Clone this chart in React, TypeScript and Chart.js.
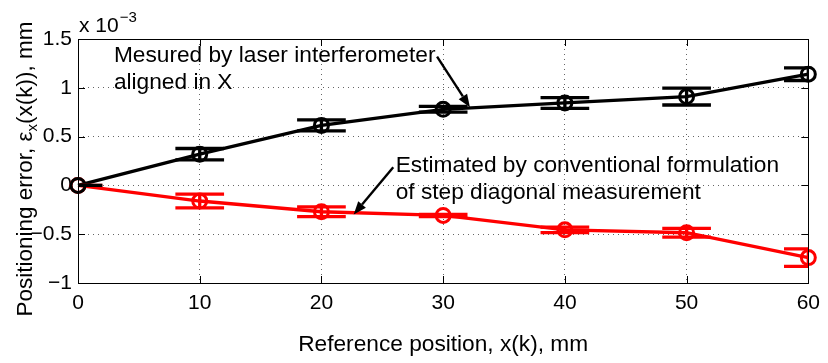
import React, { useEffect, useRef } from 'react';
import { Chart, registerables } from 'chart.js';

Chart.register(...registerables);

// ---- data ----
const positions = [0, 10, 20, 30, 40, 50, 60];
const measured = [0, 0.32, 0.615, 0.78, 0.845, 0.91, 1.14];
const measuredErr = [0, 0.058, 0.056, 0.03, 0.055, 0.086, 0.065];
const estimated = [0, -0.16, -0.27, -0.308, -0.455, -0.485, -0.74];
const estimatedErr = [0, 0.07, 0.05, 0.012, 0.028, 0.045, 0.09];
const xTicks = [0, 10, 20, 30, 40, 50, 60];
const yTicks = [-1, -0.5, 0, 0.5, 1, 1.5];

const xTitle = 'Reference position, x(k), mm';
const yTitleMain = 'Positioning error, ε';
const yTitleSub = 'x';
const yTitleTail = '(x(k)), mm';
const multiplierBase = 'x 10';
const multiplierExp = '−3';

const textNotes = [
  { lines: ['Mesured by laser interferometer', 'aligned in X'], x: 2.95, y: 1.26 },
  { lines: ['Estimated by conventional formulation', 'of step diagonal measurement'], x: 26.1, y: 0.137 },
];
const arrowNotes = [
  { fromX: 29.5, fromY: 1.32, toX: 32.2, toY: 0.8 },
  { fromX: 25.9, fromY: 0.185, toX: 22.65, toY: -0.298 },
];

const FONT = '"Liberation Sans", Arial, Helvetica, sans-serif';
const CAP_HALF = 2; // x units

function fmt(v: number): string {
  if (v < 0) return '\u2212' + String(Math.abs(v));
  return String(v);
}

export default function App() {
  const ref = useRef<HTMLCanvasElement>(null);

  useEffect(() => {
    const canvas = ref.current!;
    const overlay = {
      id: 'overlay',
      afterDatasetsDraw(chart: any) {
        const ctx = chart.ctx as CanvasRenderingContext2D;
        const xs = chart.scales.x;
        const ys = chart.scales.y;
        const a = chart.chartArea;
        ctx.save();
        ctx.beginPath();
        ctx.rect(a.left, a.top - 2, a.right - a.left, a.bottom - a.top + 4);
        ctx.clip();
        const series = [
          { vals: estimated, errs: estimatedErr, color: '#ff0000' },
          { vals: measured, errs: measuredErr, color: '#000000' },
        ];
        for (const s of series) {
          ctx.strokeStyle = s.color;
          ctx.lineWidth = 3.3;
          ctx.lineCap = 'butt';
          positions.forEach((p, i) => {
            const px = xs.getPixelForValue(p);
            const yt = ys.getPixelForValue(s.vals[i] + s.errs[i]);
            const yb = ys.getPixelForValue(s.vals[i] - s.errs[i]);
            const xl = xs.getPixelForValue(p - CAP_HALF);
            const xr = xs.getPixelForValue(p + CAP_HALF);
            ctx.beginPath();
            ctx.moveTo(px, yt);
            ctx.lineTo(px, yb);
            ctx.moveTo(xl, yt);
            ctx.lineTo(xr, yt);
            ctx.moveTo(xl, yb);
            ctx.lineTo(xr, yb);
            ctx.stroke();
          });
        }
        ctx.restore();
      },
      afterDraw(chart: any) {
        const ctx = chart.ctx as CanvasRenderingContext2D;
        const xs = chart.scales.x;
        const ys = chart.scales.y;
        const a = chart.chartArea;
        ctx.save();
        // box
        ctx.strokeStyle = '#000';
        ctx.lineWidth = 1;
        ctx.strokeRect(Math.round(a.left) + 0.5, Math.round(a.top) + 0.5, Math.round(a.right - a.left), Math.round(a.bottom - a.top));
        // inward ticks
        const tl = 7;
        ctx.beginPath();
        for (const v of xTicks) {
          const px = Math.round(xs.getPixelForValue(v)) + 0.5;
          ctx.moveTo(px, a.bottom);
          ctx.lineTo(px, a.bottom - tl);
          ctx.moveTo(px, a.top);
          ctx.lineTo(px, a.top + tl);
        }
        for (const v of yTicks) {
          const py = Math.round(ys.getPixelForValue(v)) + 0.5;
          ctx.moveTo(a.left, py);
          ctx.lineTo(a.left + tl, py);
          ctx.moveTo(a.right, py);
          ctx.lineTo(a.right - tl, py);
        }
        ctx.stroke();

        // text notes
        ctx.fillStyle = '#000';
        ctx.font = `22.7px ${FONT}`;
        ctx.textAlign = 'left';
        ctx.textBaseline = 'alphabetic';
        for (const n of textNotes) {
          const px = xs.getPixelForValue(n.x);
          const py = ys.getPixelForValue(n.y);
          n.lines.forEach((l, i) => ctx.fillText(l, px, py + i * 27));
        }
        // arrows
        for (const ar of arrowNotes) {
          const x1 = xs.getPixelForValue(ar.fromX);
          const y1 = ys.getPixelForValue(ar.fromY);
          const x2 = xs.getPixelForValue(ar.toX);
          const y2 = ys.getPixelForValue(ar.toY);
          const ang = Math.atan2(y2 - y1, x2 - x1);
          const hl = 13;
          const hw = 5;
          const bx = x2 - hl * Math.cos(ang);
          const by = y2 - hl * Math.sin(ang);
          ctx.strokeStyle = '#000';
          ctx.lineWidth = 2.4;
          ctx.beginPath();
          ctx.moveTo(x1, y1);
          ctx.lineTo(bx, by);
          ctx.stroke();
          ctx.beginPath();
          ctx.moveTo(x2, y2);
          ctx.lineTo(bx + hw * Math.sin(ang), by - hw * Math.cos(ang));
          ctx.lineTo(bx - hw * Math.sin(ang), by + hw * Math.cos(ang));
          ctx.closePath();
          ctx.fill();
        }

        // multiplier
        ctx.font = `21px ${FONT}`;
        ctx.fillText(multiplierBase, a.left + 1, a.top - 7);
        const mw = ctx.measureText(multiplierBase).width;
        ctx.font = `15px ${FONT}`;
        ctx.fillText(multiplierExp, a.left + 1 + mw + 1, a.top - 17);

        // x title
        ctx.font = `22.7px ${FONT}`;
        ctx.textAlign = 'center';
        ctx.fillText(xTitle, (a.left + a.right) / 2, 351);

        // y title (rotated, with subscript)
        ctx.textAlign = 'left';
        const mainFont = `22.5px ${FONT}`;
        const subFont = `15px ${FONT}`;
        ctx.font = mainFont;
        const w1 = ctx.measureText(yTitleMain).width;
        const w3 = ctx.measureText(yTitleTail).width;
        ctx.font = subFont;
        const w2 = ctx.measureText(yTitleSub).width;
        const total = w1 + w2 + w3;
        ctx.translate(32, 169);
        ctx.rotate(-Math.PI / 2);
        let cx = -total / 2;
        ctx.font = mainFont;
        ctx.fillText(yTitleMain, cx, 0);
        cx += w1;
        ctx.font = subFont;
        ctx.fillText(yTitleSub, cx, 5);
        cx += w2;
        ctx.font = mainFont;
        ctx.fillText(yTitleTail, cx, 0);
        ctx.restore();
      },
    };

    const chart = new Chart(canvas, {
      type: 'line',
      data: {
        datasets: [
          {
            label: 'Measured',
            data: positions.map((x, i) => ({ x, y: measured[i] })),
            borderColor: '#000000',
            borderWidth: 3.3,
            pointRadius: 7,
            pointBorderWidth: 3,
            pointBorderColor: '#000000',
            pointBackgroundColor: 'rgba(0,0,0,0)',
            tension: 0,
            clip: false,
          } as any,
          {
            label: 'Estimated',
            data: positions.map((x, i) => ({ x, y: estimated[i] })),
            borderColor: '#ff0000',
            borderWidth: 3.3,
            pointRadius: 7,
            pointBorderWidth: 3,
            pointBorderColor: '#ff0000',
            pointBackgroundColor: 'rgba(0,0,0,0)',
            tension: 0,
            clip: false,
          } as any,
        ],
      },
      options: {
        responsive: false,
        animation: false,
        devicePixelRatio: 1,
        events: [],
        layout: { padding: { left: 0, top: 39, right: 16, bottom: 0 } },
        plugins: { legend: { display: false }, tooltip: { enabled: false } },
        scales: {
          x: {
            type: 'linear',
            min: 0,
            max: 60,
            afterBuildTicks: (s: any) => {
              s.ticks = xTicks.map((v) => ({ value: v }));
            },
            afterFit: (s: any) => {
              s.height = 80;
            },
            ticks: {
              font: { family: FONT, size: 21 },
              color: '#000',
              padding: 8,
              maxRotation: 0,
              autoSkip: false,
              callback: (v: any) => fmt(Number(v)),
            },
            grid: { color: 'rgba(0,0,0,0.6)', lineWidth: 1, drawTicks: false },
            border: { display: false, dash: [1, 4] },
          },
          y: {
            type: 'linear',
            min: -1,
            max: 1.5,
            afterBuildTicks: (s: any) => {
              s.ticks = yTicks.map((v) => ({ value: v }));
            },
            afterFit: (s: any) => {
              s.width = 78;
            },
            ticks: {
              font: { family: FONT, size: 21 },
              color: '#000',
              padding: 6,
              autoSkip: false,
              callback: (v: any) => fmt(Number(v)),
            },
            grid: { color: 'rgba(0,0,0,0.6)', lineWidth: 1, drawTicks: false },
            border: { display: false, dash: [1, 4] },
          },
        },
      } as any,
      plugins: [overlay],
    });
    return () => chart.destroy();
  }, []);

  return (
    <div style={{ position: 'fixed', left: 0, top: 0, width: 828, height: 363, background: '#fff' }}>
      <canvas ref={ref} width={828} height={363} style={{ display: 'block' }} />
    </div>
  );
}
